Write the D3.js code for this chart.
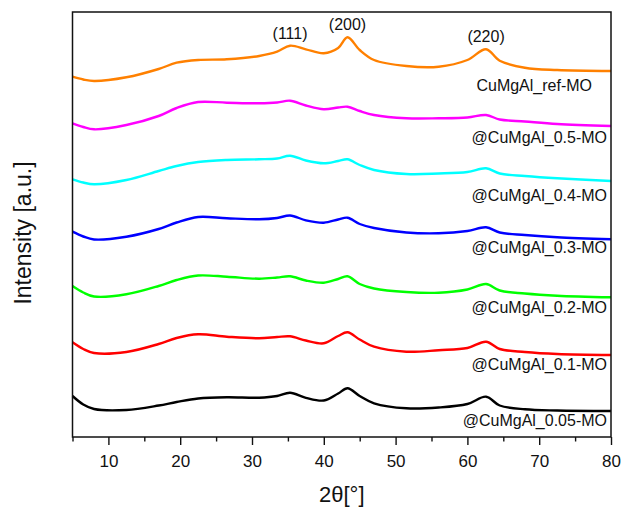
<!DOCTYPE html>
<html>
<head>
<meta charset="utf-8">
<script src="https://cdn.jsdelivr.net/npm/d3@7"></script>
<style>
  body { margin: 0; background: #fff; }
  text { font-family: "Liberation Sans", Arial, sans-serif; fill: #111; }
</style>
</head>
<body>
<svg id="chart" width="621" height="508"></svg>
<script>
// 2theta grid (deg) shared by all patterns
var twoTheta = [5, 6.5, 8, 12.5, 17, 19.5, 22.5, 26.5, 31, 33.5, 35.3, 37.5, 40, 42, 43.3, 45, 47, 51.5, 56, 60, 62.6, 64.5, 68, 72.5, 80];

// intensities (a.u., stacked with offset)
var refMO   = [3603, 3575, 3560, 3597, 3680, 3743, 3770, 3777, 3810, 3853, 3913, 3877, 3837, 3890, 3997, 3870, 3770, 3710, 3703, 3770, 3877, 3763, 3693, 3670, 3660];
var mo05    = [3137, 3100, 3077, 3120, 3210, 3290, 3350, 3343, 3337, 3345, 3363, 3315, 3277, 3295, 3303, 3260, 3220, 3187, 3187, 3195, 3220, 3175, 3155, 3130, 3110];
var mo04    = [2577, 2545, 2527, 2570, 2660, 2710, 2750, 2770, 2777, 2785, 2813, 2765, 2737, 2760, 2777, 2720, 2670, 2630, 2635, 2650, 2687, 2635, 2610, 2587, 2560];
var mo03    = [2053, 2005, 1975, 2003, 2080, 2145, 2200, 2187, 2177, 2190, 2215, 2167, 2143, 2175, 2193, 2130, 2090, 2045, 2037, 2060, 2097, 2045, 2020, 1997, 1977];
var mo02    = [1510, 1445, 1405, 1427, 1510, 1570, 1615, 1603, 1583, 1595, 1607, 1565, 1543, 1580, 1607, 1530, 1485, 1450, 1443, 1475, 1530, 1465, 1435, 1413, 1397];
var mo01    = [947, 880, 840, 850, 930, 990, 1027, 1003, 987, 1000, 1007, 965, 937, 1010, 1047, 975, 903, 853, 868, 890, 953, 880, 850, 830, 820];
var mo005   = [410, 325, 280, 270, 315, 350, 385, 397, 393, 410, 443, 392, 365, 435, 487, 410, 337, 287, 295, 330, 403, 315, 277, 265, 260];

var seriesNames  = ["CuMgAl_ref-MO", "@CuMgAl_0.5-MO", "@CuMgAl_0.4-MO", "@CuMgAl_0.3-MO", "@CuMgAl_0.2-MO", "@CuMgAl_0.1-MO", "@CuMgAl_0.05-MO"];
var seriesValues = [refMO, mo05, mo04, mo03, mo02, mo01, mo005];
var colors = ["#ff8000", "#ff00ff", "#00ffff", "#0000ff", "#00ff00", "#ff0000", "#000000"];

// reflections marked on the reference pattern
var peakLabels = ["(111)", "(200)", "(220)"];
var peakPos    = [35.3, 43.3, 62.6];

var majorTicks = [10, 20, 30, 40, 50, 60, 70, 80];
var minorTicks = [5, 15, 25, 35, 45, 55, 65, 75];

var svg = d3.select("#chart");
var mLeft = 72.5, mRight = 611, mTop = 12, mBottom = 437;

var x = d3.scaleLinear().domain([5, 80]).range([mLeft, mRight]);
var y = d3.scaleLinear().domain([0, 4250]).range([mBottom, mTop]);

var line = d3.line()
  .x((d, i) => x(twoTheta[i]))
  .y((d) => y(d))
  .curve(d3.curveCatmullRom.alpha(0.5));

// patterns
svg.selectAll("path.pattern")
  .data(seriesValues)
  .enter()
  .append("path")
  .attr("class", "pattern")
  .attr("d", line)
  .attr("fill", "none")
  .attr("stroke", (_, i) => colors[i])
  .attr("stroke-width", 2.4)
  .attr("stroke-linejoin", "round");

// sample labels
var labelY = [90.7, 143.3, 200.5, 253, 313, 369.7, 426];
svg.selectAll("text.sample")
  .data(seriesNames)
  .enter()
  .append("text")
  .attr("class", "sample")
  .attr("x", (_, i) => (i === 0 ? 592 : 607))
  .attr("y", (_, i) => labelY[i])
  .attr("text-anchor", "end")
  .style("font-size", "16px")
  .text((d) => d);

// hkl labels above the reference peaks
svg.selectAll("text.hkl")
  .data(peakLabels)
  .enter()
  .append("text")
  .attr("class", "hkl")
  .attr("x", (_, i) => x(peakPos[i]))
  .attr("y", (_, i) => y(refMO[twoTheta.indexOf(peakPos[i])]) - 7)
  .attr("text-anchor", "middle")
  .style("font-size", "16px")
  .text((d) => d);

// x axis
var gx = svg.append("g")
  .attr("transform", "translate(0," + mBottom + ")")
  .call(d3.axisBottom(x).tickValues(majorTicks).tickSize(8).tickPadding(10).tickFormat(d3.format("d")));
gx.select(".domain").remove();
gx.selectAll("line").attr("stroke", "#111").attr("stroke-width", 1.4);
gx.selectAll("text").style("font-size", "17px").attr("fill", "#111");

var gm = svg.append("g")
  .attr("transform", "translate(0," + mBottom + ")")
  .call(d3.axisBottom(x).tickValues(minorTicks).tickSize(4.5).tickFormat(""));
gm.select(".domain").remove();
gm.selectAll("line").attr("stroke", "#111").attr("stroke-width", 1.4);

// frame
svg.append("rect")
  .attr("x", mLeft)
  .attr("y", mTop)
  .attr("width", mRight - mLeft)
  .attr("height", mBottom - mTop)
  .attr("fill", "none")
  .attr("stroke", "#111")
  .attr("stroke-width", 1.5);

// axis titles
svg.append("text")
  .attr("x", (mLeft + mRight) / 2)
  .attr("y", 502)
  .attr("text-anchor", "middle")
  .style("font-size", "22px")
  .text("2θ[°]");

svg.append("text")
  .attr("transform", "translate(31,233) rotate(-90)")
  .attr("text-anchor", "middle")
  .style("font-size", "23px")
  .text("Intensity [a.u.]");
</script>
</body>
</html>
